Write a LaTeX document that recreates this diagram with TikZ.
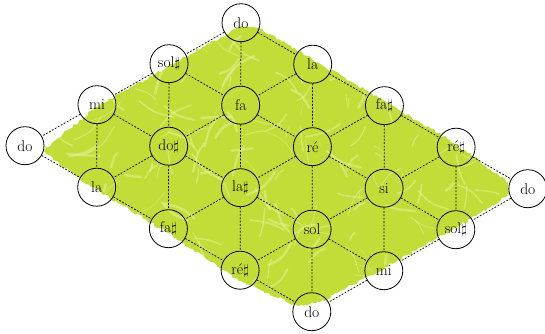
\documentclass[tikz,border=0pt]{standalone}
\usepackage{xcolor}
\usepackage{tikz}
\usetikzlibrary{decorations.pathmorphing}

\definecolor{paperGreen}{RGB}{194,221,56}
\definecolor{paperLight}{RGB}{232,243,160}

\begin{document}
\begin{tikzpicture}[
            x=1pt, y=-1pt,
            note/.style  ={circle, draw=black, line width=0.8pt, minimum size=38pt,
                           inner sep=0pt, font=\fontsize{15.5}{18}\selectfont},
            link/.style  ={line width=0.75pt, dash pattern=on 1.8pt off 1.6pt},
            paper/.style ={fill=paperGreen, decorate,
                           decoration={random steps, segment length=2.5pt, amplitude=1.5pt}},
            streak/.style={paperLight, opacity=0.5, line cap=round}
        ]
            \useasboundingbox (0,0) rectangle (545,333);

            % --- Fond vert ---
            \pgfmathsetseed{11}
            \path[paper] (241,26) -- (169,66) -- (97,107) -- (43,150) -- (60,165)
                -- (97,190) -- (168,233) -- (240,281) -- (298,306) -- (320,302)
                -- (384,268) -- (456,228) -- (510,194) -- (508,182) -- (456,144)
                -- (384,101) -- (312,59) -- (260,29) -- cycle;
            \begin{scope}
                \clip (241,28) -- (169,68) -- (97,109) -- (45,150) -- (60,163)
                    -- (97,188) -- (168,231) -- (240,279) -- (298,304) -- (320,300)
                    -- (384,266) -- (456,226) -- (508,193) -- (506,183) -- (456,146)
                    -- (384,103) -- (312,61) -- (260,31) -- cycle;
                \foreach \k in {1,...,220}{
                    \pgfmathsetmacro\xa{50+460*rnd}
                    \pgfmathsetmacro\ya{30+270*rnd}
                    \pgfmathsetmacro\dx{-35+70*rnd}
                    \pgfmathsetmacro\dy{-30+60*rnd}
                    \pgfmathsetmacro\lw{0.4+2.2*rnd}
                    \draw[streak, line width=\lw pt] (\xa,\ya) .. controls (\xa+\dx*0.6,\ya+\dy*0.3) .. (\xa+\dx,\ya+\dy);
                }
            \end{scope}

            % --- Notes (rangée par rangée) ---
            \node[note] (n00) at (241.0, 22.7) {do};
            \node[note] (n01) at (312.7, 64.2) {la};
            \node[note] (n02) at (384.4,105.7) {fa$\sharp$};
            \node[note] (n03) at (456.1,147.2) {ré$\sharp$};
            \node[note] (n04) at (527.8,188.7) {do};

            \node[note] (n10) at (169.0, 63.7) {sol$\sharp$};
            \node[note] (n11) at (240.7,105.2) {fa};
            \node[note] (n12) at (312.4,146.7) {ré};
            \node[note] (n13) at (384.1,188.2) {si};
            \node[note] (n14) at (455.8,229.7) {sol$\sharp$};

            \node[note] (n20) at ( 97.0,104.7) {mi};
            \node[note] (n21) at (168.7,146.2) {do$\sharp$};
            \node[note] (n22) at (240.4,187.7) {la$\sharp$};
            \node[note] (n23) at (312.1,229.2) {sol};
            \node[note] (n24) at (383.8,270.7) {mi};

            \node[note] (n30) at ( 25.0,145.7) {do};
            \node[note] (n31) at ( 96.7,187.2) {la};
            \node[note] (n32) at (168.4,228.7) {fa$\sharp$};
            \node[note] (n33) at (240.1,270.2) {ré$\sharp$};
            \node[note] (n34) at (311.8,311.7) {do};

            % --- Liens ---
            \foreach \i in {0,...,3}
                \foreach \j [count=\jj] in {0,...,3}
                    \draw[link] (n\i\j) -- (n\i\jj);
            \foreach \i [count=\ii] in {0,...,2}
                \foreach \j in {0,...,4}
                    \draw[link] (n\i\j) -- (n\ii\j);
            \foreach \i [count=\ii] in {0,...,2}
                \foreach \j [count=\jj] in {0,...,3}
                    \draw[link] (n\i\j) -- (n\ii\jj);
        \end{tikzpicture}
\end{document}
